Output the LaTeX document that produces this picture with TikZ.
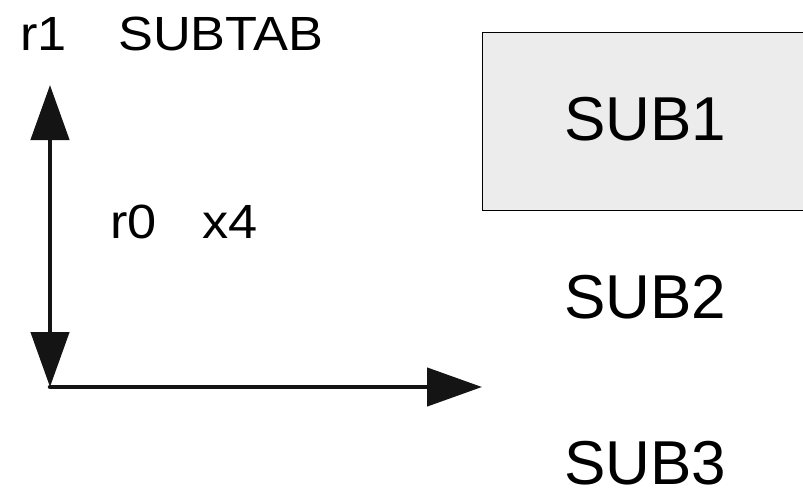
\documentclass[tikz,border=0pt]{standalone}
\usepackage{fontspec}
\setmainfont{Liberation Sans}
\newfontfamily\widesans[FakeStretch=1.09]{Liberation Sans}
\usetikzlibrary{arrows.meta}
\begin{document}
\begin{tikzpicture}[x=1pt,y=-1pt,
  axis/.style={line width=4.5pt,draw=black!92,
    arrows={-Triangle[length=55pt,width=38pt]}},
  small/.style={font=\widesans\fontsize{48}{55}\selectfont,anchor=base west,inner sep=0pt},
  big/.style={font=\fontsize{62}{70}\selectfont,anchor=base west,inner sep=0pt},
  tabbox/.style={draw=black,line width=1.2pt,fill=black!7.5,anchor=north west,
    minimum width=340pt,minimum height=178pt,inner sep=0pt}]
\clip (0,0) rectangle (803,498);
\fill[white] (0,0) rectangle (803,498);
\node[tabbox] (box) at (482,32) {};
\node[small] (r1) at (20,50) {r1};
\node[small] (subtab) at (118,50) {SUBTAB};
\node[small] (r0) at (110,238) {r0};
\node[small] (x4) at (202,238) {x4};
\node[big] (sub1) at (564,140) {SUB1};
\node[big] (sub2) at (564,318) {SUB2};
\node[big] (sub3) at (564,484) {SUB3};
\coordinate (top) at (50,85);
\coordinate (orig) at (50,387);
\coordinate (right) at (482,387);
\draw[axis,arrows={Triangle[length=55pt,width=38pt]-Triangle[length=55pt,width=38pt]}] (orig) -- (top);
\draw[axis,line cap=round] (orig) -- (right);
\end{tikzpicture}
\end{document}
